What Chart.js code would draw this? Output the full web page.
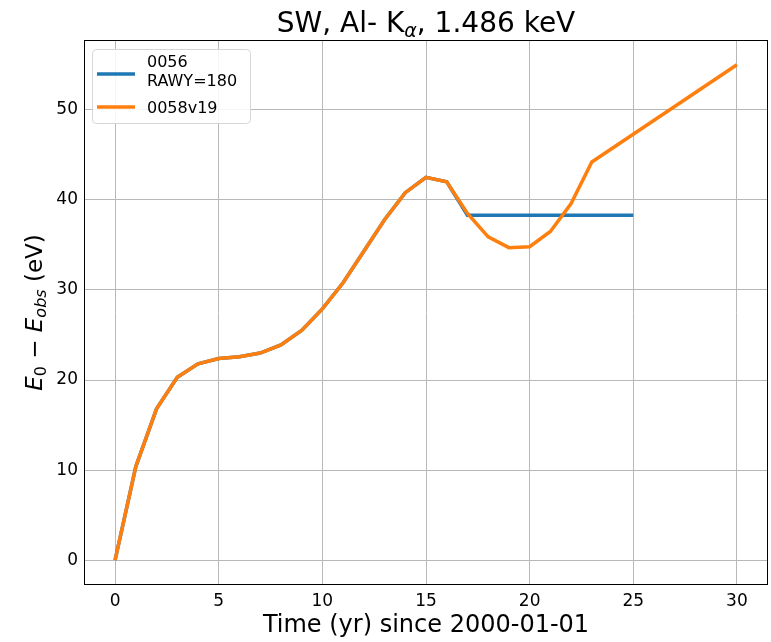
<!DOCTYPE html>
<html>
<head>
<meta charset="utf-8">
<script src="https://cdn.jsdelivr.net/npm/chart.js@4/dist/chart.umd.min.js"></script>
<style>
  html, body { margin: 0; padding: 0; background: #fff; }
  #wrap { width: 771px; height: 642px; }
</style>
</head>
<body>
<div id="wrap"><canvas id="sensChart" width="771" height="642"></canvas></div>
<script>
// data
const years0056 = [0, 1, 2, 3, 4, 5, 6, 7, 8, 9, 10, 11, 12, 13, 14, 15, 16, 17, 25];
const shift0056 = [0, 10.4, 16.8, 20.3, 21.8, 22.4, 22.6, 23.0, 23.9, 25.5, 27.9, 30.8, 34.3, 37.8, 40.8, 42.5, 42.0, 38.3, 38.3];
const years0058 = [0, 1, 2, 3, 4, 5, 6, 7, 8, 9, 10, 11, 12, 13, 14, 15, 16, 17, 18, 19, 20, 21, 22, 23, 30];
const shift0058 = [0, 10.4, 16.8, 20.3, 21.8, 22.4, 22.6, 23.0, 23.9, 25.5, 27.9, 30.8, 34.3, 37.8, 40.8, 42.5, 42.0, 38.5, 35.9, 34.7, 34.8, 36.5, 39.6, 44.2, 55.0];
const xTicks = [0, 5, 10, 15, 20, 25, 30];
const yTicks = [0, 10, 20, 30, 40, 50];
const labels = ['0056\nRAWY=180', '0058v19'];
const colors = ['#1f77b4', '#ff7f0e'];

const FONT = "'DejaVu Sans', sans-serif";

function toPoints(xs, ys) {
    return xs.map((x, i) => ({ x: x, y: ys[i] }));
}

// draws a row of text pieces (for subscripts / italics), centred on 0,0
function drawPieces(ctx, pieces) {
    let total = 0;
    pieces.forEach(p => { ctx.font = p.font; p.w = ctx.measureText(p.text).width; total += p.w; });
    let x = -total / 2;
    ctx.textAlign = 'left';
    ctx.textBaseline = 'alphabetic';
    pieces.forEach(p => {
        ctx.font = p.font;
        ctx.fillText(p.text, x, p.dy || 0);
        x += p.w;
    });
}

const decorations = {
    id: 'decorations',
    afterDatasetsDraw(chart) {
        const ctx = chart.ctx;
        const a = chart.chartArea;
        ctx.save();
        // frame on all four sides
        ctx.strokeStyle = '#000';
        ctx.lineWidth = 1;
        ctx.strokeRect(a.left + 0.5, a.top + 0.5, a.right - a.left - 1, a.bottom - a.top - 1);

        // legend box
        const lx = 92, ly = 49, lw = 158, lh = 74;
        ctx.fillStyle = 'rgba(255,255,255,0.85)';
        ctx.strokeStyle = '#d6d6d6';
        ctx.beginPath();
        ctx.roundRect(lx + 0.5, ly + 0.5, lw, lh, 4);
        ctx.fill();
        ctx.stroke();
        ctx.lineWidth = 3.5;
        ctx.strokeStyle = colors[0];
        ctx.beginPath(); ctx.moveTo(97, 74); ctx.lineTo(135, 74); ctx.stroke();
        ctx.strokeStyle = colors[1];
        ctx.beginPath(); ctx.moveTo(97, 107); ctx.lineTo(135, 107); ctx.stroke();
        ctx.fillStyle = '#000';
        ctx.font = '16px ' + FONT;
        ctx.textAlign = 'left';
        ctx.textBaseline = 'alphabetic';
        const lines = labels[0].split('\n');
        ctx.fillText(lines[0], 147, 67);
        ctx.fillText(lines[1], 147, 86);
        ctx.fillText(labels[1], 147, 113);

        // title
        ctx.fillStyle = '#000';
        ctx.translate((a.left + a.right) / 2, 32);
        drawPieces(ctx, [
            { text: 'SW, Al- K', font: '28px ' + FONT },
            { text: 'α', font: 'italic 19px ' + FONT, dy: 5 },
            { text: ', 1.486 keV', font: '28px ' + FONT }
        ]);
        ctx.restore();

        // y axis label
        ctx.save();
        ctx.fillStyle = '#000';
        ctx.translate(42, (a.top + a.bottom) / 2);
        ctx.rotate(-Math.PI / 2);
        drawPieces(ctx, [
            { text: 'E', font: 'italic 23px ' + FONT },
            { text: '0', font: '16px ' + FONT, dy: 4 },
            { text: ' \u2212 ', font: '23px ' + FONT },
            { text: 'E', font: 'italic 23px ' + FONT },
            { text: 'obs', font: 'italic 16px ' + FONT, dy: 4 },
            { text: ' (eV)', font: '23px ' + FONT }
        ]);
        ctx.restore();

        // x axis label
        ctx.save();
        ctx.fillStyle = '#000';
        ctx.translate((a.left + a.right) / 2, 632);
        drawPieces(ctx, [{ text: 'Time (yr) since 2000-01-01', font: '24px ' + FONT }]);
        ctx.restore();
    }
};

const ctx = document.getElementById('sensChart').getContext('2d');
const chart = new Chart(ctx, {
    type: 'line',
    data: {
        datasets: [{
            label: labels[0],
            data: toPoints(years0056, shift0056),
            borderColor: colors[0],
            borderWidth: 3.5,
            pointRadius: 0,
            fill: false,
            tension: 0,
            order: 2
        }, {
            label: labels[1],
            data: toPoints(years0058, shift0058),
            borderColor: colors[1],
            borderWidth: 3.5,
            pointRadius: 0,
            fill: false,
            tension: 0,
            order: 1
        }]
    },
    options: {
        responsive: false,
        animation: false,
        layout: { padding: { top: 40, right: 3, left: 0, bottom: 0 } },
        plugins: {
            legend: { display: false },
            tooltip: { enabled: false },
            title: { display: false }
        },
        scales: {
            x: {
                type: 'linear',
                min: -1.5,
                max: 31.5,
                afterBuildTicks: s => { s.ticks = xTicks.map(v => ({ value: v })); },
                afterFit: s => { s.height = 57; },
                grid: { color: '#b8b8b8', lineWidth: 1, drawTicks: false },
                border: { display: false },
                ticks: { color: '#000', font: { family: FONT, size: 17 }, padding: 6, maxRotation: 0 }
            },
            y: {
                type: 'linear',
                min: -2.75,
                max: 57.75,
                afterBuildTicks: s => { s.ticks = yTicks.map(v => ({ value: v })); },
                afterFit: s => { s.width = 84; },
                grid: { color: '#b8b8b8', lineWidth: 1, drawTicks: false },
                border: { display: false },
                ticks: { color: '#000', font: { family: FONT, size: 17 }, padding: 6 }
            }
        }
    },
    plugins: [decorations]
});
</script>
</body>
</html>
